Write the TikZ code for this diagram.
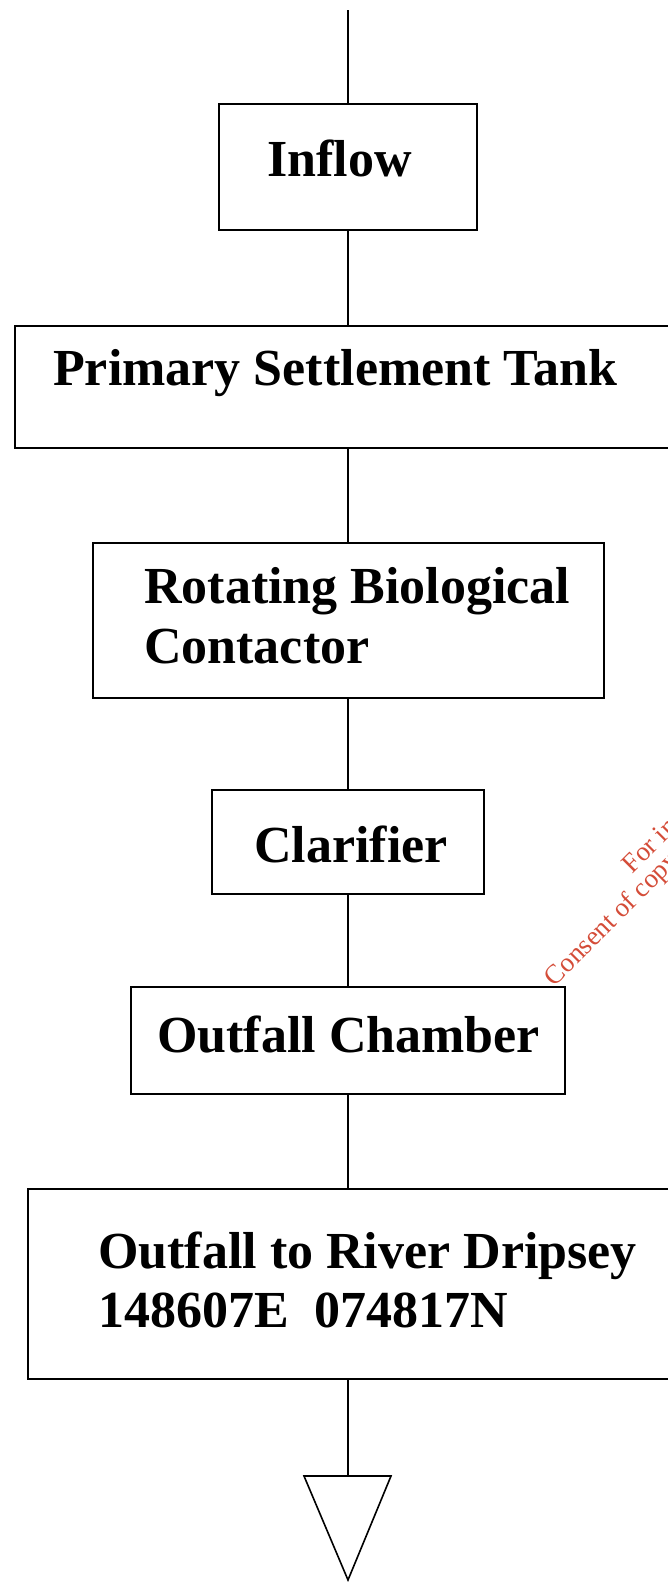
\documentclass[tikz,border=0pt]{standalone}
\usepackage{fontspec}
\setmainfont{Liberation Serif}
\usepackage{xcolor}
\definecolor{stampred}{RGB}{212,76,56}
\tikzset{
  stage/.style={draw, line width=1.6pt, inner sep=0pt},
  stagetext/.style={anchor=base west, inner sep=0pt,
    font=\fontsize{52}{62}\selectfont\bfseries},
  flow/.style={line width=1.6pt},
  stamp/.style={anchor=base, inner sep=0pt, rotate=45, text=stampred,
    font=\fontsize{27}{28}\selectfont}
}

\begin{document}
\begin{tikzpicture}[x=1pt,y=-1pt]
  \useasboundingbox (0,0) rectangle (667,1582);
  \coordinate (axis) at (348,0);
  \coordinate (source) at (348,10);
  % treatment stages
  \node[stage, minimum width=258pt, minimum height=126pt] (inflow) at (348,167) {};
  \node[stage, minimum width=685pt, minimum height=122pt] (primary) at (357.5,387) {};
  \node[stage, minimum width=511pt, minimum height=155pt] (rbc) at (348.5,620.5) {};
  \node[stage, minimum width=272pt, minimum height=104pt] (clarifier) at (348,842) {};
  \node[stage, minimum width=434pt, minimum height=107pt] (chamber) at (348,1040.5) {};
  \node[stage, minimum width=672pt, minimum height=190pt] (river) at (364,1284) {};
  % labels
  \node[stagetext] (inflowtxt) at (267,176) {Inflow};
  \node[stagetext] (primarytxt) at (53,385) {Primary Settlement Tank};
  \node[stagetext] (rbctxt) at (144,603) {Rotating Biological};
  \node[stagetext] (rbctxtb) at (144,663) {Contactor};
  \node[stagetext] (clarifiertxt) at (254,862) {Clarifier};
  \node[stagetext] (chambertxt) at (157,1052) {Outfall Chamber};
  \node[stagetext] (rivertxt) at (98,1268) {Outfall to River Dripsey};
  \node[stagetext] (rivertxtb) at (98,1327) {148607E\ \ 074817N};
  % discharge point
  \coordinate (outlet) at (348,1476);
  \draw[flow, line join=miter] (304,1476) -- (391,1476) -- (348,1580) -- cycle;
  % flow lines
  \draw[flow] (source) -- (inflow);
  \foreach \a/\b in {inflow/primary, primary/rbc, rbc/clarifier,
                     clarifier/chamber, chamber/river}
    \draw[flow] (axis |- \a.south) -- (axis |- \b.north);
  \draw[flow] (axis |- river.south) -- (outlet);
  % watermark
  \node[stamp] (stampa) at (745,762) {For inspection purposes only.};
  \node[stamp] (stampb) at (765,777) {Consent of copyright owner required for any other use.};
\end{tikzpicture}
\end{document}
